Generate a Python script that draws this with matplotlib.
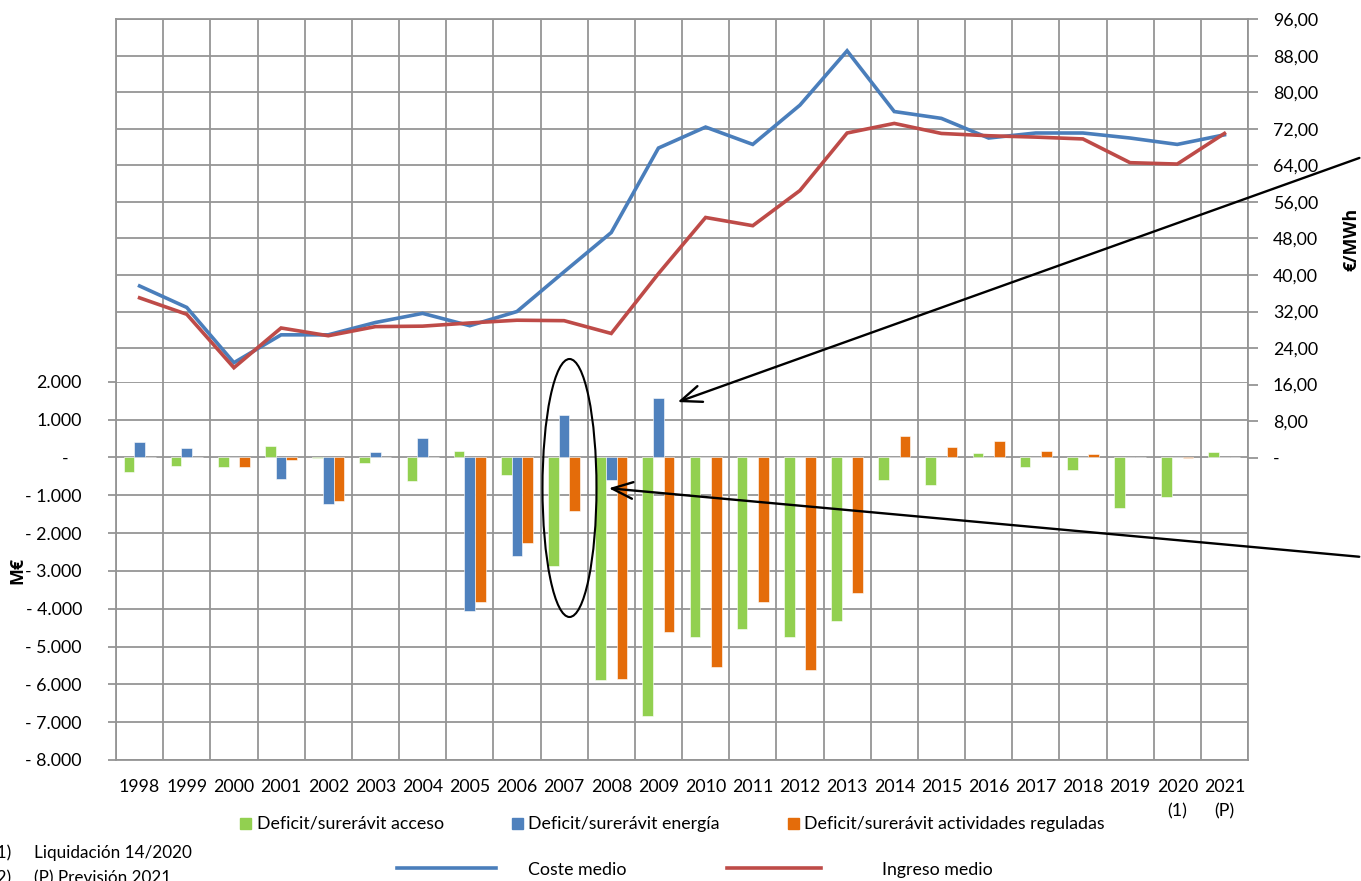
import matplotlib
matplotlib.use("Agg")
import matplotlib.pyplot as plt
from matplotlib.patches import Rectangle, Ellipse, FancyArrowPatch
from matplotlib.lines import Line2D
import matplotlib.transforms as mtransforms
import numpy as np

plt.rcParams['font.family'] = ['Lato', 'DejaVu Sans']

years = [str(y) for y in range(1998, 2022)]
year_notes = {"2020": "(1)", "2021": "(P)"}

acceso = [-381, -222, -249, 307, -26, -159, -619, 167, -468, -2868, -5891, -6835,
          -4745, -4524, -4745, -4330, -608, -733, 114, -265, -344, -1341, -1042, 148]
energia = [397, 238, 0, -574, -1243, 140, 519, -4058, -2619, 1111, -600, 1561,
           0, 0, 0, 0, 0, 0, 0, 0, 0, 0, 0, 0]
reguladas = [0, 0, -249, -71, -1148, 0, 0, -3828, -2259, -1420, -5847, -4613,
             -5540, -3828, -5608, -3598, 563, 265, 431, 167, 95, 0, -30, 0]
coste = [37.6, 32.9, 20.8, 26.9, 26.9, 29.6, 31.6, 28.9, 32.0, 40.7, 49.3, 67.8,
         72.4, 68.6, 77.2, 89.1, 75.8, 74.3, 70.0, 71.1, 71.1, 70.0, 68.6, 70.7]
ingreso = [35.0, 31.4, 19.7, 28.4, 26.7, 28.7, 28.8, 29.5, 30.1, 30.0, 27.2, 40.3,
           52.6, 50.8, 58.5, 71.1, 73.2, 71.0, 70.5, 70.2, 69.8, 64.6, 64.3, 71.0]

bar_names = ["Deficit/surerávit acceso", "Deficit/surerávit energía",
             "Deficit/surerávit actividades reguladas"]
line_names = ["Coste medio", "Ingreso medio"]
footnotes = ["(1)", "(2)"]
footnote_texts = ["Liquidación 14/2020", "(P) Previsión 2021"]

left_ticks = [2000, 1000, 0, -1000, -2000, -3000, -4000, -5000, -6000, -7000, -8000]
right_ticks = list(range(0, 97, 8))

C_GREEN = '#92D050'
C_BLUE = '#4F81BD'
C_ORANGE = '#E46C0A'
C_LBLUE = '#4A7EBB'
C_RED = '#BE4B48'
C_GRID = '#959595'
FS = 12.8
BOLD_FAMILY = ['Open Sans', 'DejaVu Sans']

W, H = 1361, 881
fig = plt.figure(figsize=(W / 100, H / 100), dpi=100)


def fx(px):
    return px / W


def fy(py):
    return 1 - py / H


L, R = 116, 1248
TOP, BOT = 19.3, 760
BAR_TOP = 381.7

n = len(years)
x = np.arange(n)

# Background axes: frame + vertical grid + upper horizontal grid
ax_bg = fig.add_axes([fx(L), fy(BOT), fx(R - L), (BOT - TOP) / H])
ax_bg.set_xlim(-0.5, n - 0.5)
ymin_line = -(BOT - 457.5) / (36.55 / 8)
ax_bg.set_ylim(ymin_line, 96)
for b in np.arange(n + 1) - 0.5:
    ax_bg.axvline(b, color=C_GRID, lw=1.3, zorder=1)
for t in right_ticks:
    if t >= 24:
        ax_bg.axhline(t, color=C_GRID, lw=1.3, zorder=1)
ax_bg.set_xticks([])
ax_bg.set_yticks([])
for s in ax_bg.spines.values():
    s.set_color(C_GRID)
    s.set_linewidth(1.3)

# Bar axes
ax_bar = fig.add_axes([fx(L), fy(BOT), fx(R - L), (BOT - BAR_TOP) / H])
ax_bar.patch.set_alpha(0)
ax_bar.set_xlim(-0.5, n - 0.5)
ax_bar.set_ylim(-8000, 2000)
for t in left_ticks:
    ax_bar.axhline(t, color=C_GRID, lw=1.3, zorder=1)
bw = 0.226
for vals, col, off in [(acceso, C_GREEN, -1), (energia, C_BLUE, 0), (reguladas, C_ORANGE, 1)]:
    ax_bar.bar(x + off * bw, vals, width=bw, color=col, edgecolor='white',
               linewidth=0.4, zorder=3)
for s in ax_bar.spines.values():
    s.set_visible(False)


def fmt_left(v):
    if v == 0:
        return "-   "
    s = f"{abs(v):,}".replace(",", ".")
    return ("- " + s) if v < 0 else s


ax_bar.set_yticks(left_ticks)
ax_bar.set_yticklabels([fmt_left(v) for v in left_ticks], fontsize=FS)
ax_bar.tick_params(axis='y', length=6, color=C_GRID, width=1.3, pad=18.5)
ax_bar.set_xticks(x)
ax_bar.set_xticklabels(years, fontsize=FS)
ax_bar.tick_params(axis='x', length=0, pad=14)

note_tr = mtransforms.blended_transform_factory(ax_bar.transData, fig.transFigure)
for i, yname in enumerate(years):
    if yname in year_notes:
        ax_bar.text(i, fy(811), year_notes[yname], ha='center', va='center',
                    fontsize=FS, transform=note_tr)

fig.text(fx(17), fy(571), "M€", rotation=90, ha='center', va='center',
         fontsize=FS, fontweight='bold', family=BOLD_FAMILY)

# Line axes
ax_line = fig.add_axes([fx(L), fy(BOT), fx(R - L), (BOT - TOP) / H])
ax_line.patch.set_alpha(0)
ax_line.set_xlim(-0.5, n - 0.5)
ax_line.set_ylim(ymin_line, 96)
ax_line.plot(x, coste, color=C_LBLUE, lw=2.6, zorder=5, solid_joinstyle='miter')
ax_line.plot(x, ingreso, color=C_RED, lw=2.6, zorder=5, solid_joinstyle='miter')
ax_line.yaxis.tick_right()
ax_line.set_yticks(right_ticks)
ax_line.set_yticklabels(["-" if t == 0 else f"{t},00" for t in right_ticks], fontsize=FS)
ax_line.tick_params(axis='y', length=7, color=C_GRID, width=1.3, pad=11)
ax_line.set_xticks([])
for s in ax_line.spines.values():
    s.set_visible(False)
fig.text(fx(1351), fy(239), "€/MWh", rotation=90, ha='center', va='center',
         fontsize=FS, fontweight='bold', family=BOLD_FAMILY)

# Legend for bars
legend_pos = [(240, 256.7), (512.3, 528.3), (788.3, 804.3)]
for (sx, tx), col, name in zip(legend_pos, [C_GREEN, C_BLUE, C_ORANGE], bar_names):
    fig.add_artist(Rectangle((fx(sx), fy(828.5)), fx(11), 11 / H, color=col,
                             transform=fig.transFigure))
    fig.text(fx(tx), fy(823.5), name, ha='left', va='center', fontsize=FS)

# Legend for lines
for (x0, x1, tx), col, name in zip([(396.7, 496, 528.3), (726.7, 820.7, 882.3)],
                                   [C_LBLUE, C_RED], line_names):
    fig.add_artist(Line2D([fx(x0), fx(x1)], [fy(868.3), fy(868.3)], color=col, lw=2.6,
                          transform=fig.transFigure))
    fig.text(fx(tx), fy(870), name, ha='left', va='center', fontsize=FS)

# Footnotes
for i, (a, b) in enumerate(zip(footnotes, footnote_texts)):
    yy = 853 + i * 25
    fig.text(fx(-8), fy(yy), a, ha='left', va='center', fontsize=12.3)
    fig.text(fx(34), fy(yy), b, ha='left', va='center', fontsize=12.3)

# Annotations: ellipse and arrows
ell = Ellipse((fx(569.5), fy(488)), fx(54), 258 / H, fill=False, edgecolor='black',
              lw=1.5, transform=fig.transFigure, zorder=10)
fig.add_artist(ell)
for (x0, y0), (x1, y1) in [((1362, 157), (675, 403)), ((1362, 557), (606, 488))]:
    arr = FancyArrowPatch((fx(x0), fy(y0)), (fx(x1), fy(y1)),
                          arrowstyle='->,head_length=15,head_width=6',
                          color='black', lw=1.7, transform=fig.transFigure,
                          mutation_scale=1, zorder=10)
    fig.add_artist(arr)

fig.savefig("out.png", dpi=100, facecolor='white')
